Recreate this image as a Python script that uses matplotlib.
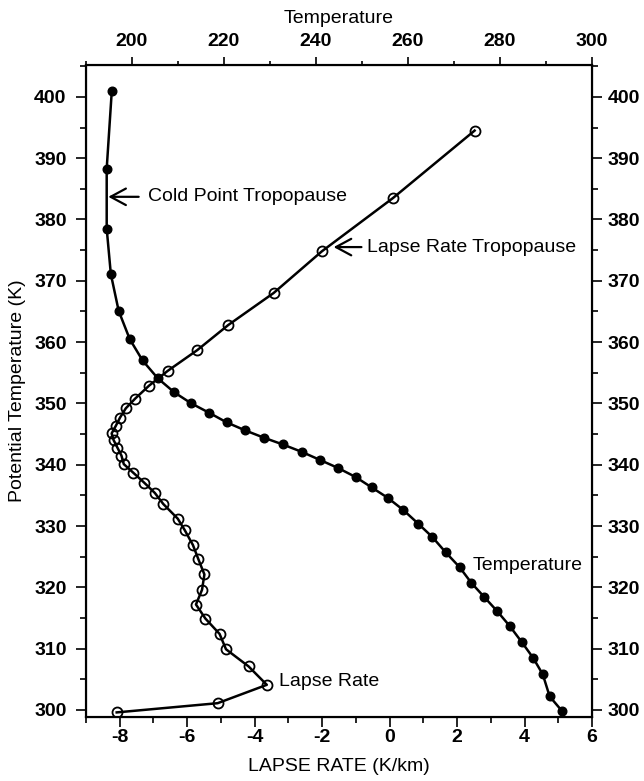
import matplotlib
matplotlib.use('Agg')
import matplotlib.pyplot as plt
from matplotlib.ticker import MultipleLocator

plt.rcParams['font.family'] = ['Liberation Sans', 'DejaVu Sans']
plt.rcParams['axes.unicode_minus'] = False

# Temperature profile (top axis), K
temp_T = [195.6, 194.5, 194.5, 195.4, 197.1, 199.5, 202.3, 205.6, 209.2, 212.9,
          216.7, 220.6, 224.6, 228.7, 232.8, 236.9, 240.8, 244.7, 248.6, 252.1,
          255.6, 259.0, 262.2, 265.3, 268.2, 271.2, 273.8, 276.6, 279.4, 282.1,
          284.7, 287.2, 289.3, 290.8, 293.4]
temp_theta = [400.9, 388.3, 378.5, 371.1, 365.1, 360.5, 357.0, 354.1, 351.8, 350.0,
              348.5, 346.9, 345.6, 344.4, 343.3, 342.1, 340.8, 339.5, 338.0, 336.3,
              334.6, 332.6, 330.4, 328.2, 325.7, 323.3, 320.7, 318.4, 316.1, 313.7,
              311.1, 308.5, 305.8, 302.2, 299.9]

# Lapse rate profile (bottom axis), K/km
lapse = [2.52, 0.10, -2.01, -3.44, -4.78, -5.70, -6.58, -7.13, -7.54, -7.82,
         -7.99, -8.12, -8.24, -8.18, -8.07, -7.95, -7.88, -7.60, -7.28, -6.96,
         -6.71, -6.28, -6.07, -5.83, -5.67, -5.49, -5.56, -5.74, -5.46, -5.04,
         -4.85, -4.18, -3.64, -5.10, -8.09]
lapse_theta = [394.5, 383.5, 374.8, 368.0, 362.8, 358.7, 355.3, 352.9, 350.8, 349.2,
               347.7, 346.3, 345.1, 344.0, 342.8, 341.5, 340.1, 338.7, 337.1, 335.4,
               333.6, 331.2, 329.3, 326.9, 324.6, 322.1, 319.6, 317.2, 314.9, 312.4,
               309.9, 307.1, 304.1, 301.1, 299.6]

fig = plt.figure(figsize=(6.44, 7.81), dpi=100)
fig.subplots_adjust(left=86/644, right=592/644, top=1-65/781, bottom=1-717/781)
ax = fig.add_subplot(111)

ax.plot(lapse, lapse_theta, color='black', lw=1.8, marker='o', ms=7.2,
        mfc='none', mec='black', mew=1.3)
ax.set_xlim(-9, 6)
ax.set_ylim(298.85, 405.2)
ax.xaxis.set_major_locator(MultipleLocator(2))
ax.xaxis.set_minor_locator(MultipleLocator(1))
ax.yaxis.set_major_locator(MultipleLocator(10))
ax.yaxis.set_minor_locator(MultipleLocator(5))
ax.set_xlabel('LAPSE RATE (K/km)', fontsize=14, labelpad=8)
ax.set_ylabel('Potential Temperature (K)', fontsize=14, labelpad=6)
ax.tick_params(which='both', direction='out', labelsize=14, width=1.2)
ax.tick_params(which='major', length=7)
ax.tick_params(which='minor', length=4)
ax.tick_params(axis='y', which='major', pad=7)
ax.tick_params(axis='x', which='major', pad=2)
for lbl in ax.get_xticklabels() + ax.get_yticklabels():
    lbl.set_fontweight('bold')
for s in ax.spines.values():
    s.set_linewidth(1.5)

# right-hand copy of the potential temperature axis
axr = ax.twinx()
axr.set_ylim(ax.get_ylim())
axr.yaxis.set_major_locator(MultipleLocator(10))
axr.yaxis.set_minor_locator(MultipleLocator(5))
axr.tick_params(which='both', direction='out', labelsize=14, width=1.2)
axr.tick_params(which='major', length=7, pad=4)
axr.tick_params(which='minor', length=4)
for lbl in axr.get_yticklabels():
    lbl.set_fontweight('bold')

ax2 = ax.twiny()
ax2.plot(temp_T, temp_theta, color='black', lw=1.8, marker='o', ms=6.2,
         mfc='black', mec='black')
ax2.set_xlim(190, 300)
ax2.xaxis.set_major_locator(MultipleLocator(20))
ax2.xaxis.set_minor_locator(MultipleLocator(10))
ax2.set_xlabel('Temperature', fontsize=14, labelpad=7)
ax2.tick_params(which='both', direction='out', labelsize=14, width=1.2)
ax2.tick_params(which='major', length=6, pad=5)
ax2.tick_params(which='minor', length=3)
for lbl in ax2.get_xticklabels():
    lbl.set_fontweight('bold')
for s in ax2.spines.values():
    s.set_linewidth(1.5)

# annotations
arrow = dict(arrowstyle='->, head_length=0.5, head_width=0.27', lw=1.6,
             color='black', mutation_scale=22, shrinkB=0)
ax.annotate('Cold Point Tropopause', xy=(-8.34, 383.7), xytext=(-7.15, 383.7),
            fontsize=14, va='center', ha='left',
            arrowprops=dict(arrow, shrinkA=5))
ax.annotate('Lapse Rate Tropopause', xy=(-1.66, 375.5), xytext=(-0.67, 375.5),
            fontsize=14, va='center', ha='left',
            arrowprops=dict(arrow, shrinkA=2))
ax.text(-3.29, 304.7, 'Lapse Rate', fontsize=14, va='center', ha='left')
ax.text(2.46, 323.5, 'Temperature', fontsize=14, va='center', ha='left')

fig.savefig('out.png', dpi=100)
